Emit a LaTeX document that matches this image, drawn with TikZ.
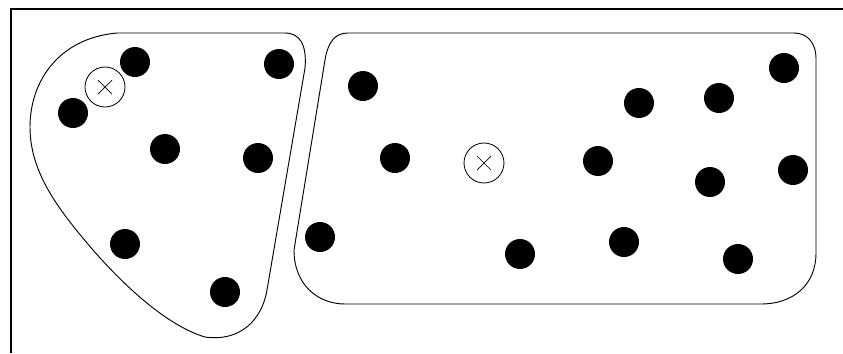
\documentclass[tikz,border=0pt]{standalone}
\usepackage{tikz}
\usetikzlibrary{positioning}
\tikzset{
  pt/.style      = {circle, fill=black, draw=none, minimum size=0.9cm, inner sep=0pt},
  site/.style    = {circle, draw, line width=0.7pt, fill=white, minimum size=1.2cm, inner sep=0pt,
                    path picture={\draw[line width=0.6pt]
                      (path picture bounding box.center) +(-7,-7) -- +(7,7)
                      (path picture bounding box.center) +(-7,7) -- +(7,-7);}},
  region/.style  = {draw, line width=0.8pt},
  frame/.style   = {draw, line width=1.6pt},
}

\begin{document}
\begin{tikzpicture}[x=0.03cm, y=-0.03cm]
  \useasboundingbox (0,0) rectangle (843,353);
  \coordinate (fbl) at (11,353);
  \coordinate (ftl) at (11,9);
  \coordinate (ftr) at (843,9);
  \draw[frame] (fbl) -- (ftl) -- (ftr);
  % left region
  \draw[region] (117,33) .. controls (60,38) and (30,80) .. (30,127)
     .. controls (30,170) and (55,205) .. (87,243)
     .. controls (120,282) and (165,325) .. (205,337)
     .. controls (240,342) and (262,320) .. (267,290) -- (305,68)
     .. controls (307,45) and (300,33) .. (285,33) -- cycle;
  % right region
  \draw[region] (348,33) -- (794,33) .. controls (808,33) and (816,44) .. (816,58)
     -- (816,253) .. controls (816,285) and (793,304) .. (761,304) -- (345,304)
     .. controls (318,304) and (294,285) .. (294,250) -- (325,60)
     .. controls (328,42) and (335,33) .. (348,33) -- cycle;
  % points of the left region
  \node[pt] (a1) at (135,62) {};
  \node[pt] (a2) at (279,64) {};
  \node[pt] (a3) at (73,113) {};
  \node[pt] (a4) at (165,149) {};
  \node[pt] (a5) at (258,158) {};
  \node[pt] (a6) at (125,244) {};
  \node[pt] (a7) at (225,292) {};
  \node[site] (sa) at (105,87) {};
  % points of the right region
  \node[pt] (b1) at (363,86) {};
  \node[pt] (b2) at (395,158) {};
  \node[pt] (b3) at (320,237) {};
  \node[pt] (b4) at (639,103) {};
  \node[pt] (b5) at (719,98) {};
  \node[pt] (b6) at (784,68) {};
  \node[pt] (b7) at (598,161) {};
  \node[pt] (b8) at (710,182) {};
  \node[pt] (b9) at (793,170) {};
  \node[pt] (b10) at (520,254) {};
  \node[pt] (b11) at (624,242) {};
  \node[pt] (b12) at (738,259) {};
  \node[site] (sb) at (484,163) {};
\end{tikzpicture}
\end{document}
